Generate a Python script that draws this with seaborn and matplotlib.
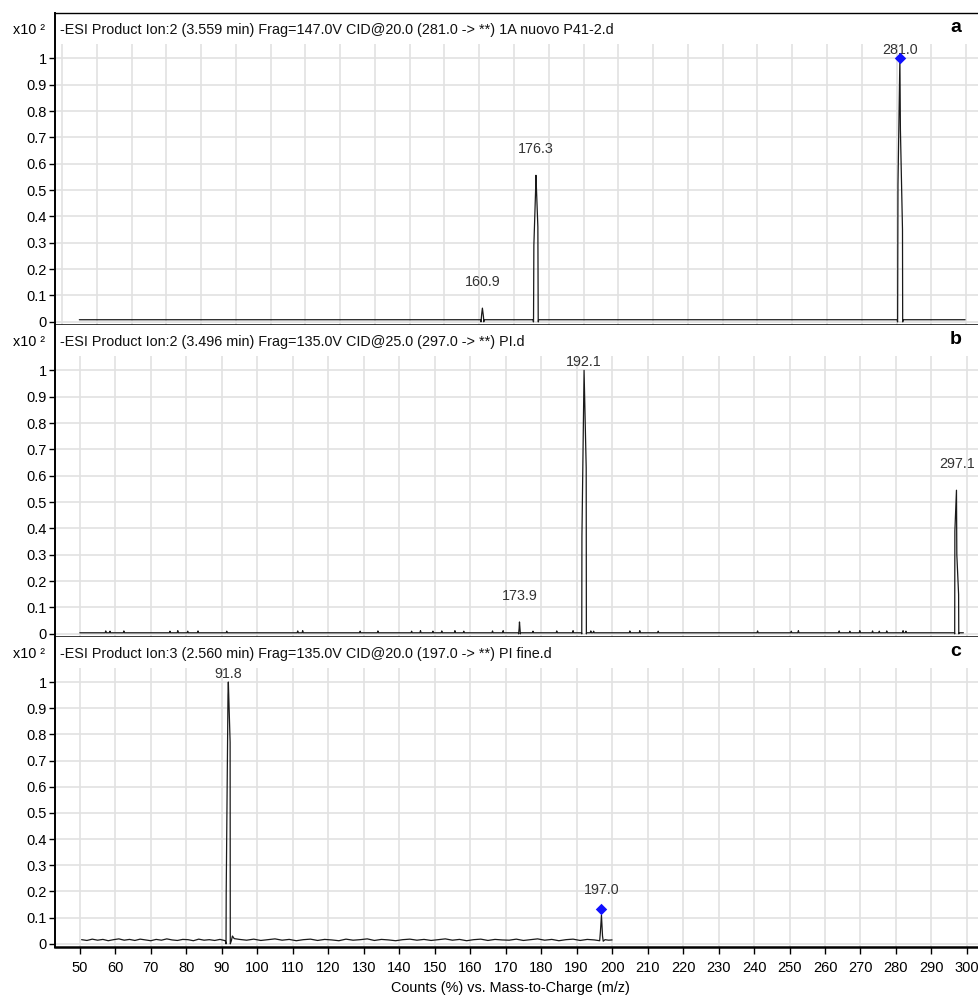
import matplotlib
matplotlib.use("Agg")
import matplotlib.pyplot as plt
import seaborn as sns
import pandas as pd

# ---------------- data ----------------
titles = [
    "-ESI Product Ion:2 (3.559 min) Frag=147.0V CID@20.0 (281.0 -> **) 1A nuovo P41-2.d",
    "-ESI Product Ion:2 (3.496 min) Frag=135.0V CID@25.0 (297.0 -> **) PI.d",
    "-ESI Product Ion:3 (2.560 min) Frag=135.0V CID@20.0 (197.0 -> **) PI fine.d",
]
panel_letters = ["a", "b", "c"]

# panel a : profile trace
a_mz = [45.0, 160.45, 160.5, 160.7, 160.9, 161.2, 161.3, 161.35,
        175.5, 175.55, 175.6, 175.7, 176.2, 176.3, 176.85, 176.95, 177.0, 177.05,
        280.2, 280.25, 280.3, 280.4, 280.95, 281.1, 281.7, 281.75, 281.8, 281.85, 299.7]
a_int = [0.008, 0.008, 0.0, 0.03, 0.052, 0.02, 0.0, 0.008,
         0.008, 0.0, 0.0, 0.29, 0.50, 0.556, 0.36, 0.0, 0.0, 0.008,
         0.008, 0.0, 0.0, 0.52, 1.0, 0.73, 0.35, 0.0, 0.0, 0.008, 0.008]
a_labels_mz = [160.9, 176.3, 281.0]
a_labels_int = [0.052, 0.556, 1.0]
a_precursor = (281.0, 1.0)

# panel b : baseline + small spikes + peaks
b_base = 0.004
b_range = (50.0, 299.0)
b_spike_mz = [57.3, 58.5, 62.4, 75.4, 77.6, 80.4, 83.3, 91.4, 111.4, 112.8,
              129.0, 134.0, 143.5, 146.0, 149.5, 152.0, 155.7, 158.2, 166.3,
              169.3, 177.7, 184.4, 189.0, 194.0, 194.8, 205.0, 207.8, 213.0,
              241.0, 250.5, 252.5, 264.0, 267.0, 269.8, 273.4, 275.3, 277.4,
              282.0, 282.8]
b_spike_int = [0.011, 0.010, 0.011, 0.010, 0.012, 0.010, 0.011, 0.010, 0.011, 0.012,
               0.010, 0.011, 0.010, 0.012, 0.010, 0.011, 0.012, 0.010, 0.011,
               0.012, 0.010, 0.011, 0.012, 0.011, 0.010, 0.011, 0.012, 0.010,
               0.011, 0.010, 0.012, 0.011, 0.010, 0.012, 0.011, 0.010, 0.011,
               0.012, 0.010]
b_peak_mz = [173.6, 173.65, 173.8, 173.9, 174.15, 174.2,
             191.4, 191.45, 191.5, 192.0, 192.1, 192.7, 192.75, 192.8,
             296.5, 296.55, 296.6, 297.05, 297.15, 297.65, 297.7, 297.75]
b_peak_int = [0.004, 0.0, 0.02, 0.045, 0.0, 0.004,
              0.004, 0.0, 0.37, 0.9, 1.0, 0.63, 0.0, 0.004,
              0.004, 0.0, 0.39, 0.545, 0.30, 0.15, 0.0, 0.004]
b_labels_mz = [173.9, 192.1, 297.1]
b_labels_int = [0.045, 1.0, 0.545]

# panel c : noisy baseline + peaks
c_mz = [50.5, 52.0, 53.5, 55.0, 56.5, 58.0, 59.5, 61.0, 62.5, 64.0, 65.5, 67.0,
        68.5, 70.0, 71.5, 73.0, 74.5, 76.0, 77.5, 79.0, 80.5, 82.0, 83.5, 85.0,
        86.5, 88.0, 89.5, 91.0,
        91.2, 91.25, 91.75, 91.85, 92.35, 92.4, 92.7, 93.0, 93.5,
        95.0, 97.0, 99.0, 101.0, 103.0, 105.0, 107.0, 109.0, 111.0, 113.0, 115.0,
        117.0, 119.0, 121.0, 123.0, 125.0, 127.0, 129.0, 131.0, 133.0, 135.0,
        137.0, 139.0, 141.0, 143.0, 145.0, 147.0, 149.0, 151.0, 153.0, 155.0,
        157.0, 159.0, 161.0, 163.0, 165.0, 167.0, 169.0, 171.0, 173.0, 175.0,
        177.0, 179.0, 181.0, 183.0, 185.0, 187.0, 189.0, 191.0, 193.0, 195.0,
        196.5, 196.7, 197.0, 197.3, 197.5, 198.0, 199.0, 200.0]
c_int = [0.016, 0.013, 0.018, 0.014, 0.017, 0.012, 0.016, 0.019, 0.014, 0.017, 0.013, 0.018,
         0.015, 0.012, 0.017, 0.014, 0.019, 0.015, 0.013, 0.017, 0.016, 0.012, 0.018, 0.014,
         0.016, 0.013, 0.017, 0.012,
         0.0, 0.2, 0.95, 1.0, 0.77, 0.0, 0.012, 0.03, 0.02,
         0.017, 0.014, 0.018, 0.013, 0.016, 0.019, 0.014, 0.017, 0.012, 0.016, 0.018,
         0.013, 0.017, 0.015, 0.012, 0.018, 0.014, 0.016, 0.019, 0.013, 0.017,
         0.015, 0.012, 0.016, 0.018, 0.014, 0.017, 0.013, 0.016, 0.019, 0.014,
         0.017, 0.012, 0.016, 0.018, 0.013, 0.017, 0.015, 0.014, 0.018, 0.013,
         0.016, 0.019, 0.014, 0.017, 0.012, 0.016, 0.018, 0.013, 0.017, 0.015,
         0.012, 0.045, 0.11, 0.03, 0.01, 0.016, 0.014, 0.015]
c_labels_mz = [91.8, 197.0]
c_labels_label_int = [1.0, 0.105]
c_precursor = (197.0, 0.135)

y_ticks = [0, 0.1, 0.2, 0.3, 0.4, 0.5, 0.6, 0.7, 0.8, 0.9, 1.0]
y_ticklabels = ["0", "0.1", "0.2", "0.3", "0.4", "0.5", "0.6", "0.7", "0.8", "0.9", "1"]
x_ticks_a = list(range(40, 301, 10))
x_ticks = list(range(50, 301, 10))
x_label = "Counts (%) vs. Mass-to-Charge (m/z)"
y_unit = "x10 \u00b2"

# ---------------- build traces ----------------
def trace_b():
    pts = [(b_range[0], b_base), (b_range[1], b_base)]
    for s, h in zip(b_spike_mz, b_spike_int):
        pts += [(s - 0.15, b_base), (s, h), (s + 0.15, b_base)]
    pts += list(zip(b_peak_mz, b_peak_int))
    pts.sort()
    return pd.DataFrame(pts, columns=["mz", "int"])

df_a = pd.DataFrame({"mz": a_mz, "int": a_int})
df_b = trace_b()
df_c = pd.DataFrame({"mz": c_mz, "int": c_int})

# ---------------- figure ----------------
sns.set_theme(style="white")
plt.rcParams["font.family"] = ["Liberation Sans", "DejaVu Sans"]
plt.rcParams["axes.axisbelow"] = True

fig = plt.figure(figsize=(9.79, 10), dpi=100)
L = 55 / 979
W = 1 - L
ax_a = fig.add_axes([L, 0.675, W, 0.312])
ax_b = fig.add_axes([L, 0.363, W, 0.312])
ax_c = fig.add_axes([L, 0.053, W, 0.310])
axes = [ax_a, ax_b, ax_c]

line_kw = dict(color="#1a1a1a", linewidth=0.9, sort=False, estimator=None)
sns.lineplot(data=df_a, x="mz", y="int", ax=ax_a, **line_kw)
sns.lineplot(data=df_b, x="mz", y="int", ax=ax_b, **line_kw)
sns.lineplot(data=df_c, x="mz", y="int", ax=ax_c, **line_kw)

label_sets = [
    (a_labels_mz, a_labels_int),
    (b_labels_mz, b_labels_int),
    (c_labels_mz, c_labels_label_int),
]
precursors = [a_precursor, None, c_precursor]

for i, ax in enumerate(axes):
    if i == 0:
        ax.set_xlim(38.0, 303.7)
        ax.set_xticks(x_ticks_a)
    else:
        ax.set_xlim(43.0, 303.4)
        ax.set_xticks(x_ticks)
    ax.set_ylim(-0.012, 1.172)
    ax.set_yticks(y_ticks)
    ax.set_yticklabels(y_ticklabels)
    ax.grid(True, color="#e2e2e2", linewidth=1.2)
    # blank title band above the grid
    ax.axhspan(1.053, 1.3, color="white", zorder=0.8, linewidth=0)
    ax.set_xlabel("")
    ax.set_ylabel("")
    ax.spines["right"].set_visible(False)
    ax.spines["top"].set_visible(i == 0)
    ax.spines["top"].set_linewidth(1.0)
    ax.spines["top"].set_color("black")
    ax.spines["left"].set_linewidth(1.4)
    ax.spines["left"].set_color("black")
    ax.spines["bottom"].set_linewidth(1.8)
    ax.spines["bottom"].set_color("black")
    ax.tick_params(axis="y", which="both", left=True, length=4, width=1,
                   color="black", labelsize=10.5, labelcolor="black", pad=2)
    if i < 2:
        ax.tick_params(axis="x", bottom=False, labelbottom=False)
    else:
        ax.tick_params(axis="x", bottom=True, length=5, width=1, color="black",
                       labelsize=10.5, labelcolor="black", pad=5)
    ax.text(0.0054, 0.946, titles[i], transform=ax.transAxes, ha="left",
            va="center", fontsize=10.4, color="#111111")
    ax.text(0.975, 0.952, panel_letters[i], transform=ax.transAxes, ha="center",
            va="center", fontsize=14, fontweight="bold", color="black")
    ax.text(-0.011, 0.946, y_unit, transform=ax.transAxes, ha="right",
            va="center", fontsize=10.4, color="black")
    lm, li = label_sets[i]
    for m, h in zip(lm, li):
        ax.text(m, min(h + 0.1, 1.03), f"{m:.1f}", ha="center", va="center",
                fontsize=10.3, color="#333333", zorder=3)
    if precursors[i] is not None:
        pm, pi = precursors[i]
        sns.scatterplot(x=[pm], y=[pi], ax=ax, marker="D", s=34, color="#1010ff",
                        edgecolor="#1010ff", linewidth=0, zorder=5, legend=False)
        ax.set_xlabel("")
        ax.set_ylabel("")

fig.text(L + W / 2 - 0.007, 0.012, x_label, ha="center", va="center",
         fontsize=10.4, color="black")

fig.savefig("out.png", dpi=100)
